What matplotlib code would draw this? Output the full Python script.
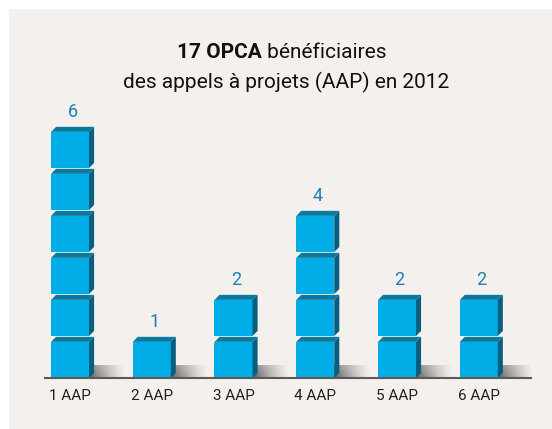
import numpy as np
import matplotlib
matplotlib.use("Agg")
import matplotlib.pyplot as plt
from matplotlib.patches import Polygon, Rectangle
from matplotlib.offsetbox import TextArea, HPacker, AnnotationBbox

categories = ["1 AAP", "2 AAP", "3 AAP", "4 AAP", "5 AAP", "6 AAP"]
counts = [6, 1, 2, 4, 2, 2]
title_bold = "17 OPCA"
title_rest = " bénéficiaires"
title_line2 = "des appels à projets (AAP) en 2012"

bg = "#f4f0ed"
front_col = "#00ade6"
top_col = "#0b7aa0"
side_col = "#075f80"
num_col = "#1d80b4"
font = "Roboto"

fig = plt.figure(figsize=(5.52, 4.29), dpi=100, facecolor=bg)
# thin white strip on top and left edge
fig.patches.append(Rectangle((0, 0.981), 1, 0.019, transform=fig.transFigure,
                             color="white", zorder=0))
fig.patches.append(Rectangle((0, 0), 0.0145, 1, transform=fig.transFigure,
                             color="white", zorder=0))

ax = fig.add_axes([0.0815, 0.1189, 0.880, 0.6853])
ax.set_facecolor(bg)
ax.set_xlim(-0.306, 5.636)
ax.set_ylim(0, 7)

w = 0.465   # front face width
h = 0.86    # front face height
dx = 0.062  # depth offset x
dy = 0.12   # depth offset y

# soft shadow image to the right of each column
sx = np.linspace(0, 1, 60)
sy = np.linspace(0, 1, 20)
X, Y = np.meshgrid(sx, sy)
shade = np.zeros((20, 60, 4))
shade[..., :3] = 0.3
shade[..., 3] = (1 - X) ** 1.3 * (0.7 + 0.3 * (1 - Y)) * 0.9

for i, n in enumerate(counts):
    left = i - w / 2
    ax.imshow(shade, extent=(left + w, left + w + 0.45, 0, 0.29), origin="lower",
              aspect="auto", zorder=1, interpolation="bilinear")
    for k in range(n):
        b = k * 1.0
        ax.add_patch(Rectangle((left, b), w, h, facecolor=front_col,
                               edgecolor="none", zorder=3))
        ax.add_patch(Polygon([(left, b + h), (left + w, b + h),
                              (left + w + dx, b + h + dy), (left + dx, b + h + dy)],
                             closed=True, facecolor=top_col, edgecolor="none", zorder=3))
        ax.add_patch(Polygon([(left + w, b), (left + w + dx, b + dy),
                              (left + w + dx, b + h + dy), (left + w, b + h)],
                             closed=True, facecolor=side_col, edgecolor="none", zorder=3))
    ax.text(i + dx / 2, n + 0.33, str(n), ha="center", va="center",
            fontsize=13, color=num_col, family=font)

for s in ["top", "right", "left"]:
    ax.spines[s].set_visible(False)
ax.spines["bottom"].set_color("#5a5a5a")
ax.spines["bottom"].set_linewidth(1.5)
ax.spines["bottom"].set_zorder(4)
ax.set_yticks([])
ax.set_xticks(range(len(categories)))
ax.set_xticklabels(categories, fontsize=11, family=font, color="#222222")
ax.tick_params(axis="x", length=0, pad=8)

t1 = TextArea(title_bold, textprops=dict(fontsize=15, fontweight="bold",
                                         family=font, color="#111111"))
t2 = TextArea(title_rest, textprops=dict(fontsize=15, family=font, color="#111111"))
line1 = HPacker(children=[t1, t2], align="baseline", pad=0, sep=0)
fig.add_artist(AnnotationBbox(line1, (0.51, 0.878), xycoords="figure fraction",
                              box_alignment=(0.5, 0.5), frameon=False))
fig.text(0.518, 0.808, title_line2, ha="center", va="center", fontsize=15,
         family=font, color="#111111")

fig.savefig("out.png", dpi=100, facecolor=bg)
